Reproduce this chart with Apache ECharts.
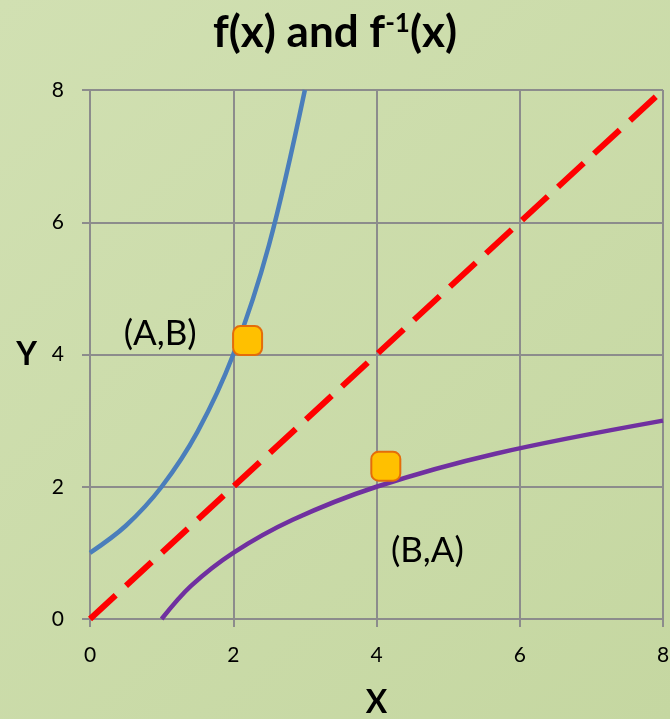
<!DOCTYPE html>
<html>
<head>
<meta charset="utf-8">
<style>
  html, body { margin: 0; padding: 0; }
  #chart { width: 670px; height: 719px; }
</style>
<script src="https://cdn.jsdelivr.net/npm/echarts@6/dist/echarts.min.js"></script>
</head>
<body>
<div id="chart"></div>
<script>
// f(x) = exponential curve, sampled points
const fX = [0, 0.5, 1, 1.5, 2, 2.5, 3];
const fY = [1, 1.41, 2, 2.83, 4, 5.66, 8];
// inverse curve: same points with coordinates swapped
const invX = [1, 1.41, 2, 2.83, 4, 5.66, 8];
const invY = [0, 0.5, 1, 1.5, 2, 2.5, 3];
// mirror line y = x
const mirrorX = [0, 8];
const mirrorY = [0, 8];
// highlighted points and their captions
const markerPoints = [[2.2, 4.21], [4.13, 2.31]];
const captionText = ['(A,B)', '(B,A)'];
const captionPos = [[0.98, 4.32], [4.71, 1.03]];
// axis ticks
const axisTicks = [0, 2, 4, 6, 8];

const zip = (xs, ys) => xs.map((x, i) => [x, ys[i]]);
const FONT = 'Lato, "Open Sans", sans-serif';

const chart = echarts.init(document.getElementById('chart'), null, { renderer: 'canvas' });

chart.setOption({
  backgroundColor: new echarts.graphic.LinearGradient(0, 0, 1, 1, [
    { offset: 0, color: '#d1e0b2' },
    { offset: 1, color: '#c5d7a1' }
  ]),
  animation: false,
  title: {
    text: 'f(x) and f{sup|-1}(x)',
    left: 'center',
    top: 6,
    textStyle: {
      fontFamily: FONT,
      fontWeight: 'bold',
      fontSize: 44,
      color: '#000',
      rich: {
        sup: {
          fontFamily: FONT,
          fontWeight: 'bold',
          fontSize: 26,
          color: '#000',
          verticalAlign: 'top',
          padding: [0, 0, 18, 0]
        }
      }
    }
  },
  grid: { left: 90, right: 7, top: 90, bottom: 100, containLabel: false, outerBoundsMode: 'none' },
  xAxis: {
    type: 'value',
    min: axisTicks[0],
    max: axisTicks[axisTicks.length - 1],
    interval: 2,
    name: 'X',
    nameLocation: 'middle',
    nameGap: 68,
    nameTextStyle: { fontFamily: FONT, fontWeight: 'bold', fontSize: 32, color: '#000' },
    axisLine: { show: true, lineStyle: { color: '#8c8c8c', width: 2 } },
    axisTick: { show: true, inside: false, length: 8, lineStyle: { color: '#8c8c8c', width: 2 } },
    axisLabel: { margin: 26, fontFamily: FONT, fontSize: 21, color: '#000' },
    splitLine: { show: true, lineStyle: { color: '#8c8c8c', width: 2 } }
  },
  yAxis: {
    type: 'value',
    min: axisTicks[0],
    max: axisTicks[axisTicks.length - 1],
    interval: 2,
    name: 'Y',
    nameLocation: 'middle',
    nameRotate: 0,
    nameGap: 53,
    nameTextStyle: { fontFamily: FONT, fontWeight: 'bold', fontSize: 32, color: '#000' },
    axisLine: { show: true, lineStyle: { color: '#8c8c8c', width: 2 } },
    axisTick: { show: true, inside: false, length: 8, lineStyle: { color: '#8c8c8c', width: 2 } },
    axisLabel: { margin: 26, fontFamily: FONT, fontSize: 21, color: '#000' },
    splitLine: { show: true, lineStyle: { color: '#8c8c8c', width: 2 } }
  },
  series: [
    {
      name: 'f(x)',
      type: 'line',
      data: zip(fX, fY),
      smooth: 0.35,
      showSymbol: false,
      lineStyle: { color: '#4a7ebb', width: 4.5 }
    },
    {
      name: 'f-1(x)',
      type: 'line',
      data: zip(invX, invY),
      smooth: 0.35,
      showSymbol: false,
      lineStyle: { color: '#7030a0', width: 4.5 }
    },
    {
      name: 'y = x',
      type: 'line',
      data: zip(mirrorX, mirrorY),
      showSymbol: false,
      lineStyle: { color: '#ff0000', width: 6, type: [35, 14], cap: 'butt' }
    },
    {
      name: 'points',
      type: 'scatter',
      data: markerPoints,
      symbol: 'roundRect',
      symbolSize: 29,
      itemStyle: { color: '#ffc000', borderColor: '#e46c0a', borderWidth: 2, opacity: 1 },
      z: 5
    },
    {
      name: 'captions',
      type: 'scatter',
      data: captionPos.map((p, i) => ({ value: p, name: captionText[i] })),
      symbolSize: 1,
      itemStyle: { color: 'rgba(0,0,0,0)', opacity: 1 },
      label: {
        show: true,
        position: 'inside',
        formatter: p => p.name,
        fontFamily: FONT,
        fontSize: 35,
        color: '#000'
      },
      z: 6
    }
  ]
});
</script>
</body>
</html>
